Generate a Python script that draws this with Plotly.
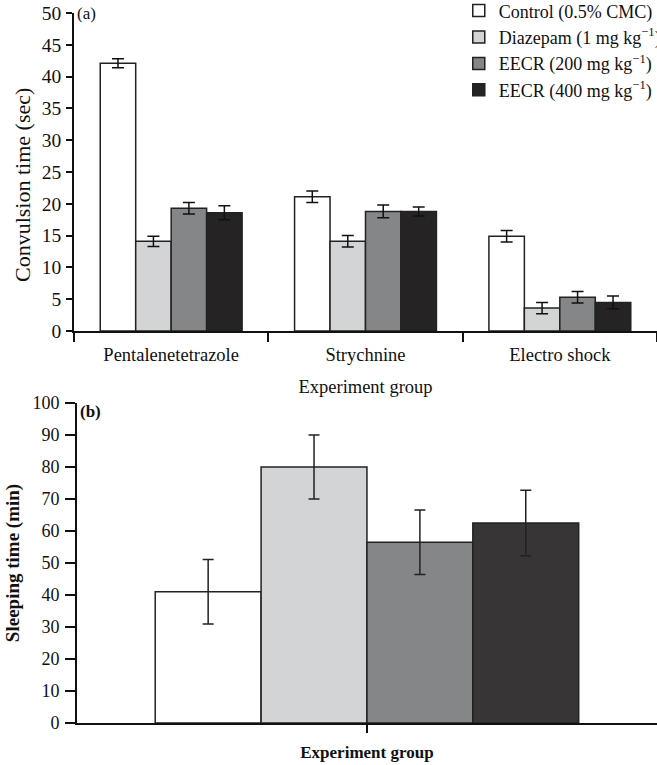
import plotly.graph_objects as go

# ---- Panel (a) data ----
tests = ["Pentalenetetrazole", "Strychnine", "Electro shock"]
series_names = ["Control (0.5% CMC)", "Diazepam (1 mg kg<sup>\u22121</sup>)",
                "EECR (200 mg kg<sup>\u22121</sup>)", "EECR (400 mg kg<sup>\u22121</sup>)"]
control_a = [42.1, 21.1, 14.9]
diazepam_a = [14.1, 14.1, 3.6]
eecr200_a = [19.3, 18.8, 5.3]
eecr400_a = [18.6, 18.8, 4.5]
control_a_err = [0.7, 0.9, 0.9]
diazepam_a_err = [0.8, 0.9, 0.9]
eecr200_a_err = [0.9, 1.0, 0.9]
eecr400_a_err = [1.1, 0.7, 1.0]

# ---- Panel (b) data ----
group_b = ["Experiment group"]
control_b = [41.0]
diazepam_b = [80.0]
eecr200_b = [56.5]
eecr400_b = [62.5]
control_b_err = [10.1]
diazepam_b_err = [10.0]
eecr200_b_err = [10.1]
eecr400_b_err = [10.2]

colors_a = ["#ffffff", "#d3d4d6", "#858688", "#262324"]
colors_b = ["#ffffff", "#d3d4d6", "#858688", "#373536"]

FONT = "Liberation Serif, Times New Roman, serif"

fig = go.Figure()

vals_a = [control_a, diazepam_a, eecr200_a, eecr400_a]
errs_a = [control_a_err, diazepam_a_err, eecr200_a_err, eecr400_a_err]
for name, v, e, c in zip(series_names, vals_a, errs_a, colors_a):
    fig.add_trace(go.Bar(
        x=tests, y=v, name=name, xaxis="x", yaxis="y",
        marker=dict(color=c, line=dict(color="#222222", width=1.5)),
        error_y=dict(type="data", array=e, color="#111111", thickness=1.5, width=6),
        legendgroup=name,
    ))

vals_b = [control_b, diazepam_b, eecr200_b, eecr400_b]
errs_b = [control_b_err, diazepam_b_err, eecr200_b_err, eecr400_b_err]
for name, v, e, c in zip(series_names, vals_b, errs_b, colors_b):
    fig.add_trace(go.Bar(
        x=group_b, y=v, name=name, xaxis="x2", yaxis="y2", showlegend=False,
        marker=dict(color=c, line=dict(color="#222222", width=1.5)),
        error_y=dict(type="data", array=e, color="#222222", thickness=1.5, width=5.5),
        legendgroup=name,
    ))

H = 765
mt, mb = 13, 42
ph = H - mt - mb

def py(pix):
    return (H - mb - pix) / ph

axis_common = dict(showgrid=False, zeroline=False, showline=True, linecolor="#111111",
                   linewidth=1.5, ticks="outside", tickcolor="#111111", tickwidth=1.5,
                   automargin=False)

fig.update_layout(
    width=657, height=765,
    margin=dict(l=74, r=0, t=mt, b=mb, autoexpand=False),
    paper_bgcolor="white", plot_bgcolor="white",
    barmode="group", bargap=0.27, bargroupgap=0,
    font=dict(family=FONT, size=18, color="#111111"),
    xaxis=dict(**axis_common, domain=[0, 1], anchor="y", type="category",
               range=[-0.5, 2.5], tickson="boundaries", ticklen=9, ticklabelstandoff=6,
               tickfont=dict(family=FONT, size=18.5, color="#111111"),
               title=dict(text="Experiment group", font=dict(family=FONT, size=18.5), standoff=16)),
    yaxis=dict(**axis_common, domain=[py(331), py(13)], anchor="x", range=[0, 50],
               tickvals=[0, 5, 10, 15, 20, 25, 30, 35, 40, 45, 50], ticklen=6,
               ticklabelstandoff=1,
               tickfont=dict(family=FONT, size=19.5, color="#111111")),
    xaxis2=dict(**axis_common, domain=[0.005, 1], anchor="y2", type="category",
                range=[-0.5, 0.5], ticklen=8, showticklabels=False,
                title=dict(text="<b>Experiment group</b>", font=dict(family=FONT, size=17), standoff=14)),
    yaxis2=dict(**axis_common, domain=[py(723), py(403)], anchor="x2", range=[0, 100],
                tickvals=[0, 10, 20, 30, 40, 50, 60, 70, 80, 90, 100], ticklen=10,
                ticklabelstandoff=2, tickprefix="<b>", ticksuffix="</b>",
                tickfont=dict(family=FONT, size=18, color="#111111"),
                title=dict(text="<b>Sleeping time (min)</b>", font=dict(family=FONT, size=19), standoff=8)),
    legend=dict(x=0.66, y=1.029, xanchor="left", yanchor="top", bgcolor="rgba(0,0,0,0)",
                font=dict(family=FONT, size=18, color="#111111"), tracegroupgap=0,
                itemwidth=30),
    annotations=[
        dict(text="Convulsion time (sec)", textangle=-90, xref="paper", yref="paper",
             x=0, y=py(185), xanchor="center", yanchor="middle", xshift=-52,
             showarrow=False, font=dict(family=FONT, size=22)),
        dict(text="(a)", x=0, y=1, xref="paper", yref="paper", xanchor="left", yanchor="top",
             xshift=1, yshift=11, showarrow=False, font=dict(family=FONT, size=17)),
        dict(text="<b>(b)</b>", xref="x2 domain", yref="y2 domain", x=0, y=1,
             xanchor="left", yanchor="top", xshift=1, yshift=3, showarrow=False,
             font=dict(family=FONT, size=17)),
    ],
)

fig.write_html("out.html", config={"displayModeBar": False},
               post_script="document.body.style.margin='0';")
